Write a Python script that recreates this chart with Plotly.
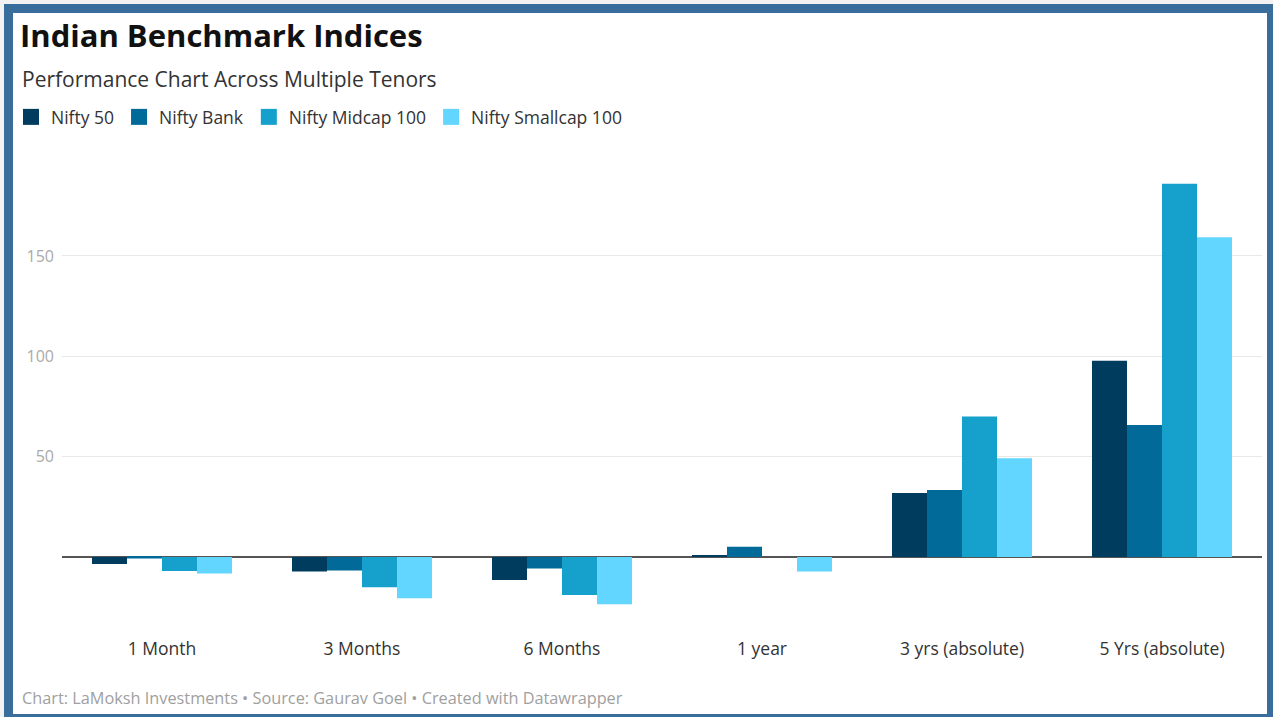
import plotly.graph_objects as go

categories = ["1 Month", "3 Months", "6 Months", "1 year", "3 yrs (absolute)", "5 Yrs (absolute)"]
series_names = ["Nifty 50", "Nifty Bank", "Nifty Midcap 100", "Nifty Smallcap 100"]
nifty_50 = [-3.5, -7.3, -11.5, 0.5, 31.8, 97.8]
nifty_bank = [-0.8, -6.8, -5.7, 5.1, 33.4, 65.8]
nifty_midcap_100 = [-7.0, -15.1, -19.0, 0.0, 70.0, 185.9]
nifty_smallcap_100 = [-8.2, -20.6, -23.6, -7.3, 49.2, 159.3]
colors = ["#003c5e", "#016a98", "#16a0cc", "#62d6fe"]
y_ticks = [50, 100, 150]

FONT = "Open Sans"
W, H = 1273, 717
ML, MR, MT, MB = 62, 11, 170, 87
PW, PH = W - ML - MR, H - MT - MB


def px_x(p):
    return (p - ML) / PW


def px_y(p):
    return (H - MB - p) / PH


fig = go.Figure()
values = [nifty_50, nifty_bank, nifty_midcap_100, nifty_smallcap_100]
for name, vals, col in zip(series_names, values, colors):
    fig.add_trace(go.Bar(x=categories, y=vals, name=name, marker=dict(color=col, line=dict(width=0)),
                         showlegend=False))
for name, col in zip(series_names, colors):
    fig.add_trace(go.Scatter(x=[None], y=[None], mode="markers", name=name,
                             marker=dict(symbol="square", size=16, color=col)))

# frame
fig.add_shape(type="rect", xref="paper", yref="paper", layer="below",
              x0=px_x(4), x1=px_x(1290), y0=px_y(730), y1=px_y(4),
              fillcolor="#396d9c", line=dict(width=0))
fig.add_shape(type="rect", xref="paper", yref="paper", layer="below",
              x0=px_x(13), x1=px_x(1267), y0=px_y(714), y1=px_y(13),
              fillcolor="#ffffff", line=dict(width=0))

fig.add_annotation(text="Performance Chart Across Multiple Tenors", xref="paper", yref="paper",
                   x=px_x(20), y=px_y(79), xanchor="left", yanchor="middle", showarrow=False,
                   font=dict(family=FONT, size=21, color="#333333"))
fig.add_annotation(text="Chart: LaMoksh Investments • Source: Gaurav Goel • Created with Datawrapper",
                   xref="paper", yref="paper", x=px_x(20), y=px_y(698), xanchor="left", yanchor="middle",
                   showarrow=False, font=dict(family=FONT, size=16.3, color="#a0a0a0"))

fig.update_layout(
    width=W, height=H,
    margin=dict(l=ML, r=MR, t=MT, b=MB),
    paper_bgcolor="#f2f2f2", plot_bgcolor="rgba(0,0,0,0)",
    title=dict(text="<b>Indian Benchmark Indices</b>", x=20 / W, xanchor="left",
               y=1 - 36 / H, yanchor="middle", yref="container",
               font=dict(family=FONT, size=31, color="#111111")),
    barmode="group", bargap=0.3, bargroupgap=0,
    legend=dict(orientation="h", x=px_x(11), y=px_y(117), xanchor="left", yanchor="middle",
                font=dict(family=FONT, size=17.5, color="#333333"), bgcolor="rgba(0,0,0,0)"),
    font=dict(family=FONT),
)
fig.update_xaxes(showgrid=False, showline=False, ticks="", ticklabelstandoff=6,
                 tickfont=dict(family=FONT, size=17.5, color="#333333"))
fig.update_yaxes(range=[-36.4, 192.8], tickvals=y_ticks, showgrid=True, gridcolor="#e8e8e8", gridwidth=1,
                 zeroline=True, zerolinecolor="#555555", zerolinewidth=2, showline=False, ticks="",
                 ticklabelstandoff=7, tickfont=dict(family=FONT, size=16, color="#aaaaaa"))

fig.write_html("out.html")
